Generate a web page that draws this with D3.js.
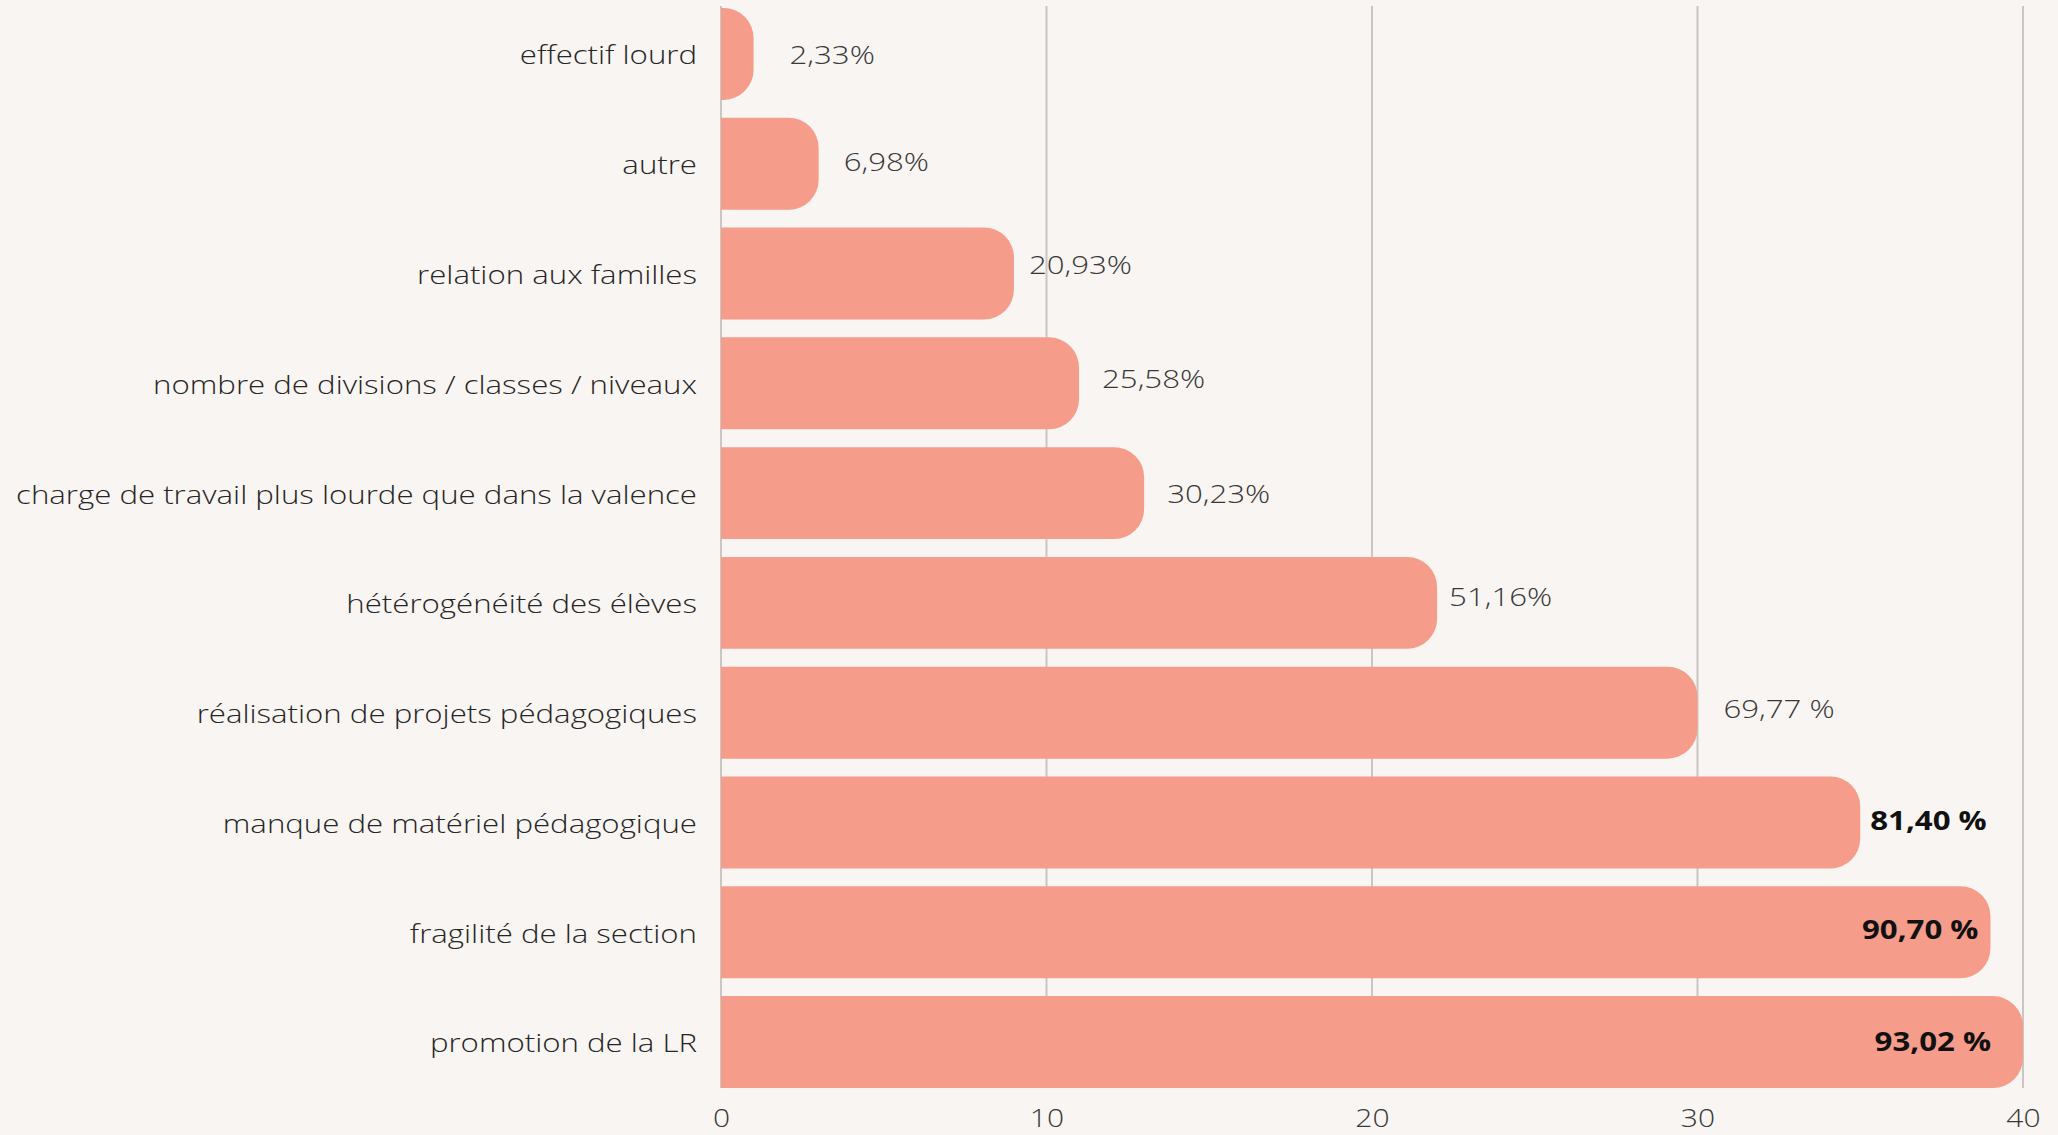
<!DOCTYPE html>
<html>
<head>
<meta charset="utf-8">
<script src="https://cdn.jsdelivr.net/npm/d3@7"></script>
<style>
  html, body { margin: 0; padding: 0; background: #f8f5f2; }
  svg { display: block; }
  text { font-family: "Open Sans", "Noto Sans", sans-serif; }
</style>
</head>
<body>
<svg id="chart" width="2058" height="1135"></svg>
<script>
// ---- data ----
const categories = [
  "effectif lourd",
  "autre",
  "relation aux familles",
  "nombre de divisions / classes / niveaux",
  "charge de travail plus lourde que dans la valence",
  "hétérogénéité des élèves",
  "réalisation de projets pédagogiques",
  "manque de matériel pédagogique",
  "fragilité de la section",
  "promotion de la LR"
];
const counts = [1, 3, 9, 11, 13, 22, 30, 35, 39, 40];
const valueLabels = ["2,33%", "6,98%", "20,93%", "25,58%", "30,23%", "51,16%", "69,77 %", "81,40 %", "90,70 %", "93,02 %"];
const boldLabel = [false, false, false, false, false, false, false, true, true, true];
const insideLabel = [false, false, false, false, false, false, false, false, true, true];
const tickValues = [0, 10, 20, 30, 40];

// ---- label nudges (layout, pixels) ----
const labelDx = [36, 25, 15, 23, 23, 12, 26, 10, -12, -32];
const labelDy = [0, -3, -10, -6, -1, -7, -5, -3, -4, -1];

// ---- layout ----
const W = 2058, H = 1135;
const x0 = 721, x1 = 2023, yTop = 8, yBot = 1088;
const stretch = 1.2; // text in the reference is horizontally widened
const svg = d3.select("#chart");
svg.append("rect").attr("width", W).attr("height", H).attr("fill", "#f8f5f2");

const x = d3.scaleLinear().domain([0, 40]).range([x0, x1]);
const y = d3.scaleBand().domain(categories).range([yTop, yBot]).paddingInner(0.163).paddingOuter(0);

// gridlines
svg.append("g").selectAll("line").data(tickValues).join("line")
  .attr("x1", d => x(d)).attr("x2", d => x(d))
  .attr("y1", yTop - 2).attr("y2", yBot)
  .attr("stroke", "#c9c6c3").attr("stroke-width", 2);

// bars with rounded right corners
function barPath(xs, xe, yt, h, r) {
  const w = xe - xs;
  r = Math.min(r, w, h / 2);
  return `M${xs},${yt} H${xe - r} A${r},${r} 0 0 1 ${xe},${yt + r} V${yt + h - r} A${r},${r} 0 0 1 ${xe - r},${yt + h} H${xs} Z`;
}
svg.append("g").selectAll("path").data(categories).join("path")
  .attr("d", (c, i) => barPath(x(0), x(counts[i]), y(c), y.bandwidth(), 30))
  .attr("fill", "#f59c8a");

// category labels
svg.append("g").selectAll("text").data(categories).join("text")
  .attr("transform", c => `translate(${x0 - 24},${y(c) + y.bandwidth() / 2}) scale(${stretch},1)`)
  .attr("dy", "0.4em")
  .attr("text-anchor", "end")
  .attr("font-size", 26)
  .attr("font-weight", 300)
  .attr("fill", "#262626")
  .text(c => c);

// value labels
svg.append("g").selectAll("text").data(categories).join("text")
  .attr("transform", (c, i) => `translate(${x(counts[i]) + labelDx[i]},${y(c) + y.bandwidth() / 2 + labelDy[i]}) scale(${stretch},1)`)
  .attr("dy", "0.4em")
  .attr("text-anchor", (c, i) => insideLabel[i] ? "end" : "start")
  .attr("font-size", 26)
  .attr("font-weight", (c, i) => boldLabel[i] ? 700 : 300)
  .attr("fill", (c, i) => boldLabel[i] ? "#111" : "#383838")
  .text((c, i) => valueLabels[i]);

// x axis tick labels
const axis = d3.axisBottom(x).tickValues(tickValues).tickSize(0).tickPadding(0).tickFormat(d3.format("d"));
const gAxis = svg.append("g").attr("transform", `translate(0, ${yBot + 21})`).call(axis);
gAxis.select(".domain").remove();
gAxis.selectAll("text")
  .attr("font-family", '"Open Sans", sans-serif')
  .attr("font-size", 25)
  .attr("font-weight", 300)
  .attr("fill", "#383838")
  .attr("transform", `scale(${stretch},1)`);
</script>
</body>
</html>
